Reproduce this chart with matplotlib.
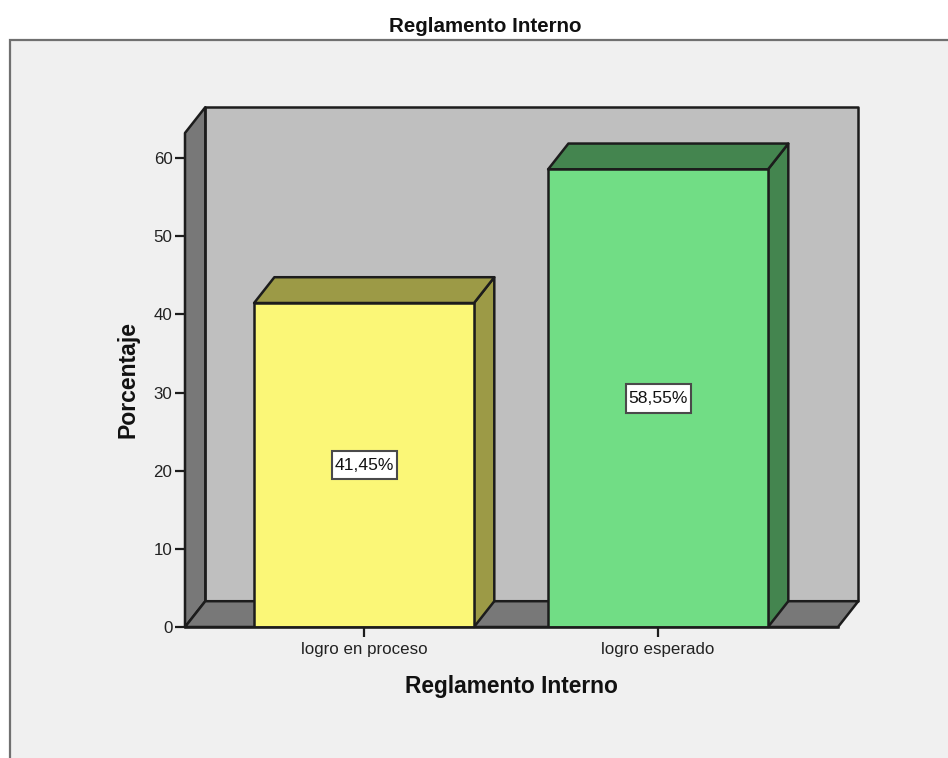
import matplotlib
matplotlib.use("Agg")
import matplotlib.pyplot as plt
from matplotlib.patches import Polygon, Rectangle

plt.rcParams['font.family'] = ['Liberation Sans', 'DejaVu Sans']

# Data
categories = ["logro en proceso", "logro esperado"]
percentages = [41.45, 58.55]
value_labels = ["41,45%", "58,55%"]
y_ticks = [0, 10, 20, 30, 40, 50, 60]

W, H = 948, 758
EDGE = "#1c1c1c"

fig = plt.figure(figsize=(W / 100, H / 100), dpi=100, facecolor="white")

# grey chart panel with its frame (runs off the right and bottom of the image)
# zorder below the axes, figure artists are sorted with them
fig.add_artist(Rectangle((10 / W, -0.01), 1.0, (H - 40) / H + 0.01, transform=fig.transFigure,
                         facecolor="#f0f0f0", edgecolor="#707070", linewidth=1.6, zorder=-1))

# axes = front face of the 3d box
ax = fig.add_axes([185 / W, (H - 627) / H, (838 - 185) / W, (627 - 133) / H])
ax.set_xlim(-0.609, 1.612)
ax.set_ylim(0, 63.2)
ax.patch.set_visible(False)
for s in ax.spines.values():
    s.set_visible(False)

dx = 0.069  # depth of the box in x units
dy = 3.3    # depth of the box in y units
x0, x1 = ax.get_xlim()
y0, y1 = ax.get_ylim()


def poly(pts, color, z=1, lw=1.8):
    ax.add_patch(Polygon(pts, closed=True, facecolor=color, edgecolor=EDGE, linewidth=lw,
                         joinstyle="round", zorder=z, clip_on=False))


# walls
poly([(x0 + dx, y0 + dy), (x1 + dx, y0 + dy), (x1 + dx, y1 + dy), (x0 + dx, y1 + dy)], "#bfbfbf")
poly([(x0, y0), (x0 + dx, y0 + dy), (x0 + dx, y1 + dy), (x0, y1)], "#787878")
poly([(x0, y0), (x1, y0), (x1 + dx, y0 + dy), (x0 + dx, y0 + dy)], "#787878")

# bars
bar_w = 0.748
box_w, box_h = 0.221, 3.7  # white value label box
front_colors = ["#fbf777", "#71dd85"]
side_colors = ["#9c9a46", "#44854f"]
for i, val in enumerate(percentages):
    l, r = i - bar_w / 2, i + bar_w / 2
    poly([(r, 0), (r + dx, dy), (r + dx, val + dy), (r, val)], side_colors[i], z=3)
    poly([(l, val), (r, val), (r + dx, val + dy), (l + dx, val + dy)], side_colors[i], z=3)
    ax.bar(i, val, width=bar_w, color=front_colors[i], edgecolor=EDGE, linewidth=1.8, zorder=4)
    ax.add_patch(Rectangle((i - box_w / 2, val / 2 - box_h / 2), box_w, box_h, facecolor="white",
                           edgecolor="#4a4a4a", linewidth=1.5, zorder=5))
    ax.text(i, val / 2, value_labels[i], ha="center", va="center", fontsize=12.6, color="#111111", zorder=6)

# axes ticks and text
ax.set_xticks(range(len(categories)), categories)
ax.set_yticks(y_ticks)
ax.tick_params(axis="both", length=7.5, width=1.6, color=EDGE, labelsize=12.2, labelcolor="#222222", pad=1.5)
ax.tick_params(axis="x", length=7, pad=3.7)
ax.plot([x0, x1], [0, 0], color=EDGE, linewidth=1.8, zorder=7, clip_on=False)

ax.set_xlabel("Reglamento Interno", fontsize=16.4, fontweight="bold", color="#111111", labelpad=12.8)
ax.set_ylabel("Porcentaje", fontsize=16.6, fontweight="bold", color="#111111", labelpad=10)

fig.text(485 / W, (H - 27) / H, "Reglamento Interno", ha="center", va="center",
         fontsize=14.8, fontweight="bold", color="#111111")

fig.savefig("out.png", dpi=100, facecolor=fig.get_facecolor())
